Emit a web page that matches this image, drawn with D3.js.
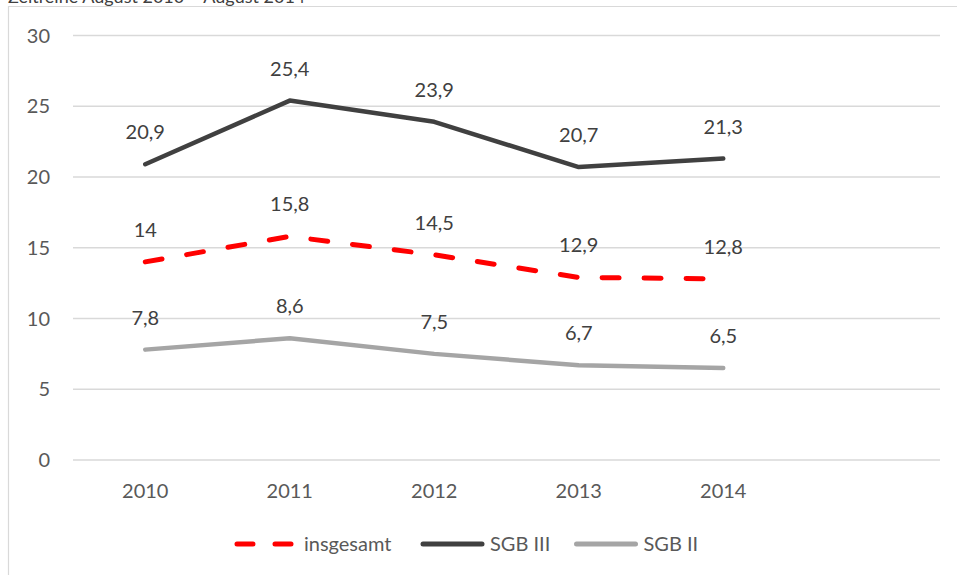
<!DOCTYPE html>
<html>
<head>
<meta charset="utf-8">
<script src="https://cdn.jsdelivr.net/npm/d3@7"></script>
<style>
  body { margin: 0; background: #fff; }
  svg text { font-family: Lato, "Open Sans", sans-serif; }
</style>
</head>
<body>
<svg id="chart" width="957" height="575"></svg>
<script>
// chart values
var years = ['2010', '2011', '2012', '2013', '2014'];
var insgesamt = [14, 15.8, 14.5, 12.9, 12.8];
var sgb3 = [20.9, 25.4, 23.9, 20.7, 21.3];
var sgb2 = [7.8, 8.6, 7.5, 6.7, 6.5];
var yTicks = [0, 5, 10, 15, 20, 25, 30];

var svg = d3.select('#chart');

var x = d3.scaleBand().domain(years).range([73, 795.5]);
var y = d3.scaleLinear().domain([0, 30]).range([460, 35.5]);
var cx = function(d, i) { return x(years[i]) + x.bandwidth() / 2; };

function fmt(v) { return String(v).replace('.', ','); }

// title, cut off at the top edge like in the original
svg.append('text').attr('x', 8).attr('y', 3)
  .attr('font-size', 18).attr('fill', '#404040')
  .text('Zeitreihe August 2010 – August 2014');

// chart frame
svg.append('path').attr('d', 'M8.5,575V6.5H957')
  .attr('fill', 'none').attr('stroke', '#d9d9d9').attr('stroke-width', 1.2);

// grid + y labels
var grid = svg.append('g');
grid.selectAll('line').data(yTicks).enter().append('line')
  .attr('x1', 73).attr('x2', 940)
  .attr('y1', function(d) { return y(d); }).attr('y2', function(d) { return y(d); })
  .attr('stroke', '#d9d9d9').attr('stroke-width', 1.5);
grid.selectAll('text').data(yTicks).enter().append('text')
  .attr('x', 50).attr('y', function(d) { return y(d); })
  .attr('dy', '0.35em').attr('text-anchor', 'end')
  .attr('font-size', 20).attr('fill', '#595959')
  .text(function(d) { return d; });

// x labels
svg.append('g').selectAll('text').data(years).enter().append('text')
  .attr('x', function(d) { return x(d) + x.bandwidth() / 2; })
  .attr('y', 498).attr('text-anchor', 'middle')
  .attr('font-size', 20).attr('fill', '#595959')
  .text(function(d) { return d; });

var series = [
  { name: 'SGB II', values: sgb2, color: '#a5a5a5', dash: null },
  { name: 'insgesamt', values: insgesamt, color: '#ff0000', dash: '17,25' },
  { name: 'SGB III', values: sgb3, color: '#404040', dash: null }
];

var line = d3.line().x(cx).y(function(d) { return y(d); });

series.forEach(function(s) {
  svg.append('path').datum(s.values)
    .attr('d', line)
    .attr('fill', 'none').attr('stroke', s.color)
    .attr('stroke-width', s.dash ? 5 : 4.5)
    .attr('stroke-linecap', 'round').attr('stroke-linejoin', 'round')
    .attr('stroke-dasharray', s.dash);

  svg.append('g').selectAll('text').data(s.values).enter().append('text')
    .attr('x', cx).attr('y', function(d) { return y(d) - 25; })
    .attr('text-anchor', 'middle')
    .attr('font-size', 20).attr('fill', '#404040')
    .text(fmt);
});

// legend
var legend = [
  { name: 'insgesamt', color: '#ff0000', dash: '16,22', x: 237 },
  { name: 'SGB III', color: '#404040', dash: null, x: 423 },
  { name: 'SGB II', color: '#a5a5a5', dash: null, x: 576.5 }
];
var lg = svg.append('g').selectAll('g').data(legend).enter().append('g');
lg.append('line')
  .attr('x1', function(d) { return d.x; }).attr('x2', function(d) { return d.x + 59; })
  .attr('y1', 544).attr('y2', 544)
  .attr('stroke', function(d) { return d.color; })
  .attr('stroke-width', 5).attr('stroke-linecap', 'round')
  .attr('stroke-dasharray', function(d) { return d.dash; });
lg.append('text')
  .attr('x', function(d) { return d.x + 67; }).attr('y', 551)
  .attr('font-size', 20).attr('fill', '#595959')
  .text(function(d) { return d.name; });
</script>
</body>
</html>
